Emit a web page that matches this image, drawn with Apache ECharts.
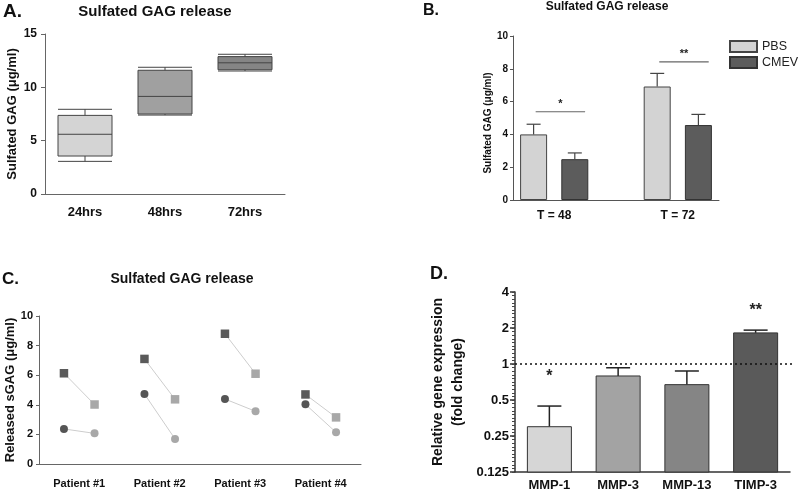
<!DOCTYPE html>
<html><head><meta charset="utf-8">
<script src="https://cdn.jsdelivr.net/npm/echarts@6/dist/echarts.min.js"></script>
<style>html,body{margin:0;padding:0;background:#fff}#c{width:800px;height:498px}</style>
</head><body><div id="c"></div><script>
// ---------- Panel A ----------
const aCategories = ['24hrs', '48hrs', '72hrs'];
const aBoxes = [
  [3.06, 3.56, 5.6, 7.37, 7.94],
  [7.4, 7.5, 9.15, 11.6, 11.88],
  [11.53, 11.65, 12.3, 12.88, 13.1]
];
const aYTicks = [0, 5, 10, 15];
// ---------- Panel B ----------
const bGroups = ['T = 48', 'T = 72'];
const bPBS = [4.0, 6.92];
const bPBSErr = [4.62, 7.72];
const bCMEV = [2.49, 4.57];
const bCMEVErr = [2.87, 5.22];
const bSig = ['*', '**'];
const bSigY = [5.38, 8.42];
// ---------- Panel C ----------
const cPatients = ['Patient #1', 'Patient #2', 'Patient #3', 'Patient #4'];
const cDarkSquare = [6.13, 7.1, 8.8, 4.7];
const cLightSquare = [4.02, 4.37, 6.1, 3.15];
const cDarkCircle = [2.37, 4.73, 4.39, 4.03];
const cLightCircle = [2.07, 1.69, 3.56, 2.14];
// ---------- Panel D ----------
const dGenes = ['MMP-1', 'MMP-3', 'MMP-13', 'TIMP-3'];
const dValues = [0.299, 0.794, 0.672, 1.82];
const dErr = [0.445, 0.93, 0.874, 1.92];
const dSig = ['*', '', '', '**'];
const dSigY = [0.78, null, null, 2.79];
const dRef = 1;
const dTicks = [0.125, 0.25, 0.5, 1, 2, 4];

// ---------- styles ----------
const F = '"Liberation Sans", Arial, sans-serif';
const aColors = ['#d4d4d4', '#a0a0a0', '#858585'];
const dColors = ['#d6d6d6', '#a3a3a3', '#858585', '#5a5a5a'];
const bold = (s) => ({ fontFamily: F, fontWeight: 'bold', fontSize: s, color: '#111' });
const axLine = (c, w) => ({ show: true, lineStyle: { color: c, width: w || 1 } });

// B slots: PBS, CMEV, gap, PBS, CMEV
const bSlots = [];
bGroups.forEach((g, i) => { if (i > 0) bSlots.push('gap' + i); bSlots.push('PBS ' + g, 'CMEV ' + g); });
const bPBSData = bSlots.map((s, k) => (k % 3 === 0 ? bPBS[k / 3] : '-'));
const bCMEVData = bSlots.map((s, k) => (k % 3 === 1 ? bCMEV[(k - 1) / 3] : '-'));
const bErrData = [];
bGroups.forEach((g, i) => { bErrData.push([3 * i, bPBS[i], bPBSErr[i]]); bErrData.push([3 * i + 1, bCMEV[i], bCMEVErr[i]]); });

function errRender(capW, lw, color) {
  return function (params, api) {
    const x = api.value(0);
    const t = api.coord([x, api.value(1)]);
    const e = api.coord([x, api.value(2)]);
    return { type: 'group', children: [
      { type: 'line', shape: { x1: t[0], y1: t[1], x2: e[0], y2: e[1] }, style: { stroke: color, lineWidth: lw } },
      { type: 'line', shape: { x1: e[0] - capW / 2, y1: e[1], x2: e[0] + capW / 2, y2: e[1] }, style: { stroke: color, lineWidth: lw } }
    ] };
  };
}

const off = 0.19;
const cSeries = [];
cPatients.forEach((p, i) => {
  cSeries.push({
    type: 'line', xAxisIndex: 4, yAxisIndex: 2, symbol: 'rect', symbolSize: 8.5, silent: true,
    lineStyle: { color: '#cdcdcd', width: 1 }, itemStyle: { color: '#595959' },
    data: [{ value: [i + 1 - off, cDarkSquare[i]], itemStyle: { color: '#5a5a5a' } },
           { value: [i + 1 + off, cLightSquare[i]], itemStyle: { color: '#a8a8a8' } }]
  });
  cSeries.push({
    type: 'line', xAxisIndex: 4, yAxisIndex: 2, symbol: 'circle', symbolSize: 8, silent: true,
    lineStyle: { color: '#cdcdcd', width: 1 }, itemStyle: { color: '#555' },
    data: [{ value: [i + 1 - off, cDarkCircle[i]], itemStyle: { color: '#555555' } },
           { value: [i + 1 + off, cLightCircle[i]], itemStyle: { color: '#a8a8a8' } }]
  });
});

const chart = echarts.init(document.getElementById('c'));
chart.setOption({
  animation: false,
  textStyle: { fontFamily: F },
  graphic: [
    { type: 'text', left: 3, top: 2, style: { text: 'A.', font: 'bold 19px ' + F, fill: '#111' } },
    { type: 'text', x: 155, y: 4, style: { text: 'Sulfated GAG release', font: 'bold 15px ' + F, fill: '#111', textAlign: 'center' } },
    { type: 'text', left: 423, top: 3, style: { text: 'B.', font: 'bold 16px ' + F, fill: '#111' } },
    { type: 'text', x: 607, y: 1, style: { text: 'Sulfated GAG release', font: 'bold 12px ' + F, fill: '#111', textAlign: 'center' } },
    { type: 'text', left: 2, top: 271, style: { text: 'C.', font: 'bold 17px ' + F, fill: '#111' } },
    { type: 'text', x: 182, y: 272, style: { text: 'Sulfated GAG release', font: 'bold 14px ' + F, fill: '#111', textAlign: 'center' } },
    { type: 'text', left: 430, top: 265, style: { text: 'D.', font: 'bold 18px ' + F, fill: '#111' } }
  ],
  legend: {
    left: 729, top: 40, orient: 'vertical', itemWidth: 27, itemHeight: 11, itemGap: 3, padding: 0,
    icon: 'rect', data: ['PBS', 'CMEV'],
    textStyle: { fontFamily: F, fontSize: 12.5, color: '#222' }
  },
  grid: [
    { left: 45, top: 34, width: 240, height: 160 },
    { left: 513, top: 36, width: 206, height: 164 },
    { left: 39, top: 316, width: 322, height: 148 },
    { left: 515, top: 292, width: 275, height: 180 }
  ],
  xAxis: [
    { type: 'category', gridIndex: 0, data: aCategories, axisLine: axLine('#666'),
      axisTick: { alignWithLabel: true, length: 5 }, axisLabel: Object.assign(bold(13), { margin: 12 }) },
    { type: 'category', gridIndex: 1, data: bSlots, axisLine: axLine('#555'),
      axisTick: { alignWithLabel: true, length: 4 }, axisLabel: { show: false } },
    { type: 'value', gridIndex: 1, position: 'bottom', offset: 0, min: 0, max: 5, interval: 1,
      axisLine: { show: false }, axisTick: { show: false }, splitLine: { show: false },
      axisLabel: Object.assign(bold(12), { margin: 10, formatter: (v) => { const g = (v - 1) / 3; return Number.isInteger(g) && bGroups[g] ? bGroups[g] : ''; } }) },
    { type: 'category', gridIndex: 2, data: cPatients, axisLine: axLine('#666'),
      axisTick: { alignWithLabel: true, length: 4 }, axisLabel: Object.assign(bold(11), { margin: 14 }) },
    { type: 'value', gridIndex: 2, min: 0.5, max: 4.5, show: false },
    { type: 'category', gridIndex: 3, data: dGenes, axisLine: axLine('#333', 1.5),
      axisTick: { alignWithLabel: true, length: 4 }, axisLabel: Object.assign(bold(13), { margin: 7 }) }
  ],
  yAxis: [
    { type: 'value', gridIndex: 0, min: aYTicks[0], max: aYTicks[aYTicks.length - 1], interval: 5,
      axisLine: axLine('#666'), axisTick: { show: true, length: 4 }, splitLine: { show: false },
      axisLabel: Object.assign(bold(12), { margin: 8 }),
      name: 'Sulfated GAG (μg/ml)', nameLocation: 'middle', nameRotate: 90, nameGap: 26,
      nameTextStyle: bold(13) },
    { type: 'value', gridIndex: 1, min: 0, max: 10, interval: 2,
      axisLine: axLine('#555'), axisTick: { show: true, length: 3 }, splitLine: { show: false },
      axisLabel: Object.assign(bold(10), { margin: 5 }),
      name: 'Sulfated GAG (μg/ml)', nameLocation: 'middle', nameRotate: 90, nameGap: 20,
      nameTextStyle: Object.assign(bold(10), { padding: [0, 0, 0, -10] }) },
    { type: 'value', gridIndex: 2, min: 0, max: 10, interval: 2,
      axisLine: axLine('#666'), axisTick: { show: true, length: 3 }, splitLine: { show: false },
      axisLabel: Object.assign(bold(11), { margin: 6 }),
      name: 'Released sGAG (μg/ml)', nameLocation: 'middle', nameRotate: 90, nameGap: 22,
      nameTextStyle: bold(13) },
    { type: 'log', logBase: 2, gridIndex: 3, min: dTicks[0], max: dTicks[dTicks.length - 1], splitNumber: 5,
      axisLine: axLine('#333', 1.5), axisTick: { show: true, length: 5, lineStyle: { width: 1.5 } },
      splitLine: { show: false },
      axisLabel: Object.assign(bold(13), { margin: 6, formatter: (v) => String(+(+v).toPrecision(6)) }),
      name: 'Relative gene expression\n(fold change)', nameLocation: 'middle', nameRotate: 90, nameGap: 47,
      nameTextStyle: Object.assign(bold(14), { lineHeight: 20 }) },
    // minor ticks for the log axis of panel D
    { type: 'log', logBase: 2, gridIndex: 3, min: dTicks[0], max: dTicks[dTicks.length - 1], interval: 0.1,
      position: 'left', offset: 0,
      axisLine: { show: false }, axisTick: { show: true, length: 3, lineStyle: { color: '#444', width: 1 } },
      axisLabel: { show: false }, splitLine: { show: false } }
  ],
  series: [
    // A
    { type: 'boxplot', xAxisIndex: 0, yAxisIndex: 0, boxWidth: [54, 54], silent: true,
      itemStyle: { borderColor: '#444', borderWidth: 1 },
      data: aBoxes.map((b, i) => ({ value: b, itemStyle: { color: aColors[i], borderColor: '#444', borderWidth: 1 } })) },
    // B
    { name: 'PBS', type: 'bar', xAxisIndex: 1, yAxisIndex: 1, barWidth: 27, barGap: '-100%', data: bPBSData,
      itemStyle: { color: '#d3d3d3', borderColor: '#444', borderWidth: 1 } },
    { name: 'CMEV', type: 'bar', xAxisIndex: 1, yAxisIndex: 1, barWidth: 27, barGap: '-100%', data: bCMEVData,
      itemStyle: { color: '#5c5c5c', borderColor: '#333', borderWidth: 1 } },
    { type: 'custom', xAxisIndex: 1, yAxisIndex: 1, data: bErrData, renderItem: errRender(14, 1.2, '#444'), z: 3 },
    { type: 'custom', xAxisIndex: 1, yAxisIndex: 1, data: bSigY.map((y, i) => [3 * i, y]), z: 3,
      renderItem: function (params, api) {
        const c = api.coord([api.value(0), api.value(1)]);
        const w = api.size([1, 0])[0];
        const x1 = c[0] + 0.05 * w, x2 = c[0] + 1.25 * w;
        return { type: 'group', children: [
          { type: 'line', shape: { x1: x1, y1: c[1], x2: x2, y2: c[1] }, style: { stroke: '#666', lineWidth: 1.2 } },
          { type: 'text', x: (x1 + x2) / 2, y: c[1] - 2, style: { text: bSig[params.dataIndex], font: 'bold 11px ' + F, fill: '#222', textAlign: 'center', textVerticalAlign: 'bottom' } }
        ] };
      } },
    // C
    ...cSeries,
    // D bars
    { type: 'custom', xAxisIndex: 5, yAxisIndex: 3, data: dGenes.map((g, i) => [i, dValues[i], dErr[i]]),
      renderItem: function (params, api) {
        const i = api.value(0);
        const base = api.coord([i, dTicks[0]]);
        const t = api.coord([i, api.value(1)]);
        const e = api.coord([i, api.value(2)]);
        const w = api.size([1, 0])[0] * 0.64;
        return { type: 'group', children: [
          { type: 'line', shape: { x1: t[0], y1: t[1], x2: e[0], y2: e[1] }, style: { stroke: '#222', lineWidth: 1.5 } },
          { type: 'line', shape: { x1: e[0] - 12, y1: e[1], x2: e[0] + 12, y2: e[1] }, style: { stroke: '#222', lineWidth: 1.5 } },
          { type: 'rect', shape: { x: t[0] - w / 2, y: t[1], width: w, height: base[1] - t[1] }, style: { fill: dColors[i], stroke: '#333', lineWidth: 1 } }
        ] };
      } },
    { type: 'custom', xAxisIndex: 5, yAxisIndex: 3, data: [[0, dRef]], z: 4,
      renderItem: function (params, api) {
        const c = api.coord([0, api.value(1)]);
        const cs = params.coordSys;
        return { type: 'line', shape: { x1: cs.x, y1: c[1], x2: cs.x + cs.width + 2, y2: c[1] },
          style: { stroke: '#111', lineWidth: 1.6, lineDash: [2, 3] } };
      } },
    { type: 'custom', xAxisIndex: 5, yAxisIndex: 3, z: 4,
      data: dSigY.map((y, i) => (y == null ? null : [i, y])).filter((d) => d),
      renderItem: function (params, api) {
        const i = api.value(0);
        const c = api.coord([i, api.value(1)]);
        return { type: 'text', x: c[0], y: c[1], style: { text: dSig[i], font: 'bold 16px ' + F, fill: '#222', textAlign: 'center', textVerticalAlign: 'middle' } };
      } }
  ]
});
</script></body></html>
